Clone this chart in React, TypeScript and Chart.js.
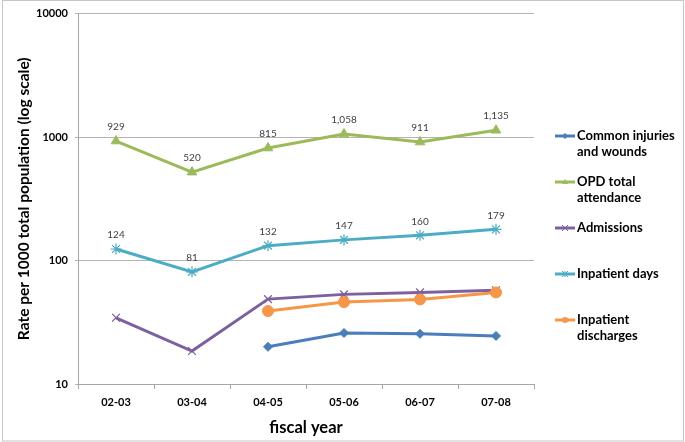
import React, { useEffect, useRef } from 'react';
import { Chart, registerables } from 'chart.js';

Chart.register(...registerables);

const categories = ['02-03', '03-04', '04-05', '05-06', '06-07', '07-08'];
const injuries = [null, null, 20.0, 25.9, 25.5, 24.5];
const opd = [929, 520, 815, 1058, 911, 1135];
const admissions = [34.4, 18.5, 48.7, 53.2, 55.2, 57.5];
const inpatientDays = [124, 81, 132, 147, 160, 179];
const discharges = [null, null, 39, 46.1, 48.4, 55.2];
const yTicks = [10, 100, 1000, 10000];
const opdLabels = ['929', '520', '815', '1,058', '911', '1,135'];
const daysLabels = ['124', '81', '132', '147', '160', '179'];

const seriesNames = [
  ['Common injuries', 'and wounds'],
  ['OPD total', 'attendance'],
  ['Admissions'],
  ['Inpatient days'],
  ['Inpatient', 'discharges'],
];
const seriesColors = ['#4A7EBB', '#9BBB59', '#7D60A0', '#4BACC6', '#F79646'];
const seriesStyles = ['rectRot', 'triangle', 'crossRot', 'star', 'circle'];
const seriesRadius = [4.5, 5.5, 5.5, 5.5, 5.5];

const FONT = 'Lato, "Open Sans", sans-serif';

function drawMarker(ctx: CanvasRenderingContext2D, style: string, x: number, y: number, r: number, color: string) {
  ctx.save();
  ctx.fillStyle = color;
  ctx.strokeStyle = color;
  ctx.lineWidth = 1;
  ctx.beginPath();
  if (style === 'rectRot') {
    ctx.moveTo(x, y - r);
    ctx.lineTo(x + r, y);
    ctx.lineTo(x, y + r);
    ctx.lineTo(x - r, y);
    ctx.closePath();
    ctx.fill();
  } else if (style === 'triangle') {
    ctx.moveTo(x, y - r);
    ctx.lineTo(x + r, y + r * 0.7);
    ctx.lineTo(x - r, y + r * 0.7);
    ctx.closePath();
    ctx.fill();
  } else if (style === 'circle') {
    ctx.arc(x, y, r, 0, Math.PI * 2);
    ctx.fill();
  } else if (style === 'crossRot' || style === 'star') {
    ctx.moveTo(x - r, y - r);
    ctx.lineTo(x + r, y + r);
    ctx.moveTo(x + r, y - r);
    ctx.lineTo(x - r, y + r);
    if (style === 'star') {
      ctx.moveTo(x, y - r);
      ctx.lineTo(x, y + r);
    }
    ctx.stroke();
  }
  ctx.restore();
}

const framePlugin = {
  id: 'frame',
  beforeDraw(chart: any) {
    const ctx = chart.ctx;
    ctx.save();
    ctx.fillStyle = '#ffffff';
    ctx.fillRect(0, 0, chart.width, chart.height);
    ctx.strokeStyle = '#c6c6c6';
    ctx.lineWidth = 1;
    ctx.strokeRect(2.5, 0.5, chart.width - 4, chart.height - 1.5);
    ctx.restore();
  },
};

const labelPlugin = {
  id: 'pointLabels',
  afterDatasetsDraw(chart: any) {
    const ctx = chart.ctx;
    const sets: [number, string[]][] = [
      [1, opdLabels],
      [3, daysLabels],
    ];
    ctx.save();
    ctx.font = `10px ${FONT}`;
    ctx.fillStyle = '#404040';
    ctx.textAlign = 'center';
    ctx.textBaseline = 'middle';
    for (const [idx, labels] of sets) {
      const meta = chart.getDatasetMeta(idx);
      meta.data.forEach((pt: any, i: number) => {
        if (pt && !pt.skip) ctx.fillText(labels[i], pt.x, pt.y - 14);
      });
    }
    ctx.restore();
  },
};

const legendPlugin = {
  id: 'customLegend',
  afterDraw(chart: any) {
    const ctx = chart.ctx;
    const startY = 136;
    const step = 46;
    ctx.save();
    ctx.font = `bold 13px ${FONT}`;
    ctx.fillStyle = '#000000';
    ctx.textAlign = 'left';
    ctx.textBaseline = 'middle';
    seriesNames.forEach((lines, i) => {
      const y = startY + step * i;
      ctx.strokeStyle = seriesColors[i];
      ctx.lineWidth = 3;
      ctx.beginPath();
      ctx.moveTo(555, y);
      ctx.lineTo(575, y);
      ctx.stroke();
      drawMarker(ctx, seriesStyles[i], 565, y, 3, seriesColors[i]);
      lines.forEach((t, j) => {
        ctx.fillText(t, 577, y + j * 15.5);
      });
    });
    ctx.restore();
  },
};

export default function App() {
  const ref = useRef<HTMLCanvasElement | null>(null);

  useEffect(() => {
    if (!ref.current) return;
    const data = [injuries, opd, admissions, inpatientDays, discharges];
    const chart = new Chart(ref.current, {
      type: 'line',
      data: {
        labels: categories,
        datasets: data.map((d, i) => ({
          label: seriesNames[i].join(' '),
          data: d as any,
          borderColor: seriesColors[i],
          backgroundColor: seriesColors[i],
          borderWidth: 3,
          tension: 0,
          spanGaps: false,
          pointStyle: seriesStyles[i] as any,
          pointRadius: seriesRadius[i],
          pointBorderWidth: seriesStyles[i] === 'crossRot' || seriesStyles[i] === 'star' ? 1.2 : 1,
          pointBackgroundColor: seriesColors[i],
          pointBorderColor: seriesColors[i],
          order: 4 - i,
        })),
      },
      options: {
        animation: false,
        responsive: false,
        maintainAspectRatio: false,
        events: [],
        layout: { padding: { top: 12, right: 151, bottom: 0, left: 0 } },
        plugins: {
          legend: { display: false },
          tooltip: { enabled: false },
          title: { display: false },
        },
        scales: {
          x: {
            type: 'category',
            offset: true,
            grid: {
              offset: true,
              drawOnChartArea: false,
              drawTicks: true,
              tickLength: 5,
              color: '#a6a6a6',
            },
            border: { display: true, color: '#a6a6a6', width: 1 },
            ticks: {
              color: '#000000',
              font: { family: FONT, size: 11, weight: 'bold' },
              padding: 7,
              maxRotation: 0,
            },
            title: {
              display: true,
              text: 'fiscal year',
              color: '#000000',
              font: { family: FONT, size: 16.5, weight: 'bold' },
              padding: { top: 0, bottom: 4 },
            },
            afterFit: (scale: any) => {
              scale.height = 58;
            },
          },
          y: {
            type: 'logarithmic',
            min: 10,
            max: 10000,
            afterBuildTicks: (scale: any) => {
              scale.ticks = yTicks.map((v) => ({ value: v, major: true }));
            },
            grid: {
              color: '#b3b3b3',
              tickLength: 3,
              drawTicks: true,
            },
            border: { display: true, color: '#a6a6a6', width: 1 },
            ticks: {
              color: '#000000',
              font: { family: FONT, size: 11, weight: 'bold' },
              padding: 7,
              callback: (v: any) => String(v),
            },
            title: {
              display: true,
              text: 'Rate per 1000 total population (log scale)',
              color: '#000000',
              font: { family: FONT, size: 15.5, weight: 'bold' },
              padding: { top: 14.5, bottom: 0 },
            },
            afterFit: (scale: any) => {
              scale.width = 78;
            },
          },
        },
      },
      plugins: [framePlugin, labelPlugin, legendPlugin],
    } as any);
    return () => chart.destroy();
  }, []);

  return (
    <div style={{ position: 'absolute', left: 0, top: 0, width: 685, height: 442 }}>
      <canvas ref={ref} width={685} height={442} style={{ width: 685, height: 442, display: 'block' }} />
    </div>
  );
}
